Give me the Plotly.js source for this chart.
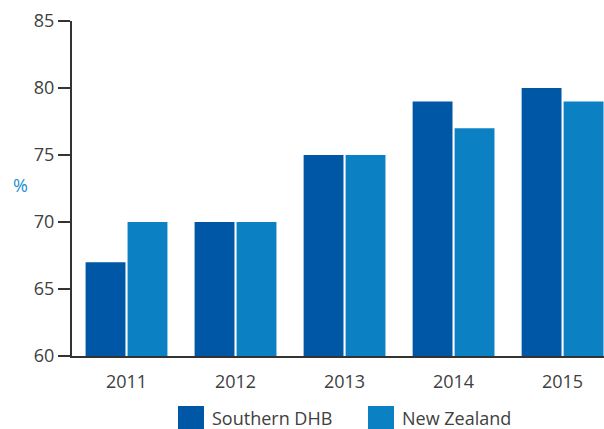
<!DOCTYPE html>
<html><head><meta charset="utf-8">
<script src="https://cdn.plot.ly/plotly-3.0.1.min.js"></script>
<style>html,body{margin:0;padding:0;background:#fff;}#chart{width:604px;height:429px;}</style>
</head><body><div id="chart"></div>
<script>
var years = ['2011','2012','2013','2014','2015'];
var southern = [67, 70, 75, 79, 80];
var newZealand = [70, 70, 75, 77, 79];
var seriesNames = ['Southern DHB', 'New Zealand'];
var seriesColors = ['#0057A6', '#0B81C4'];
var yTicks = [60, 65, 70, 75, 80, 85];

var font = '"Open Sans", "Segoe UI", sans-serif';
var data = [
  {type:'bar', x:years, y:southern, name:seriesNames[0], marker:{color:seriesColors[0]}, showlegend:false, hoverinfo:'y'},
  {type:'bar', x:years, y:newZealand, name:seriesNames[1], marker:{color:seriesColors[1]}, showlegend:false, hoverinfo:'y'}
];
var W = 604, H = 429, L = 72, T = 21, B = 356, R = 604;
function px(x){return (x - L)/(R - L);}
function py(y){return (B - y)/(B - T);}
var legendX = [178, 368];
var shapes = [], annotations = [];
for (var i=0;i<2;i++){
  shapes.push({type:'rect', xref:'paper', yref:'paper', x0:px(legendX[i]), x1:px(legendX[i]+26), y0:py(429), y1:py(406), fillcolor:seriesColors[i], line:{width:0}});
  annotations.push({xref:'paper', yref:'paper', x:px(legendX[i]+32), y:py(418), xanchor:'left', yanchor:'middle', text:seriesNames[i], showarrow:false, font:{family:font, size:18, color:'#404040'}});
}
annotations.push({xref:'paper', yref:'paper', x:px(20), y:py(185), xanchor:'center', yanchor:'middle', text:'%', showarrow:false, font:{family:font, size:18, color:'#1A8FD0'}});

var layout = {
  width:W, height:H,
  margin:{l:72, r:0, t:21, b:73, pad:0},
  paper_bgcolor:'#fff', plot_bgcolor:'#fff',
  barmode:'group', bargap:0.23, bargroupgap:0.05,
  showlegend:false,
  font:{family:font, color:'#404040'},
  xaxis:{type:'category', range:[-0.5, 4.38], showgrid:false, zeroline:false, showline:true, linecolor:'#333', linewidth:2, ticks:'', ticklabelstandoff:8, tickfont:{family:font, size:18, color:'#404040'}, fixedrange:true},
  yaxis:{range:[60,85], tickvals:yTicks, ticktext:yTicks.map(String), showgrid:false, zeroline:false, showline:true, linecolor:'#333', linewidth:2, ticks:'outside', ticklen:12, tickwidth:2, tickcolor:'#333', tickfont:{family:font, size:18, color:'#404040'}, fixedrange:true},
  shapes:shapes, annotations:annotations
};
Plotly.newPlot('chart', data, layout, {displayModeBar:false, staticPlot:true});
</script></body></html>
